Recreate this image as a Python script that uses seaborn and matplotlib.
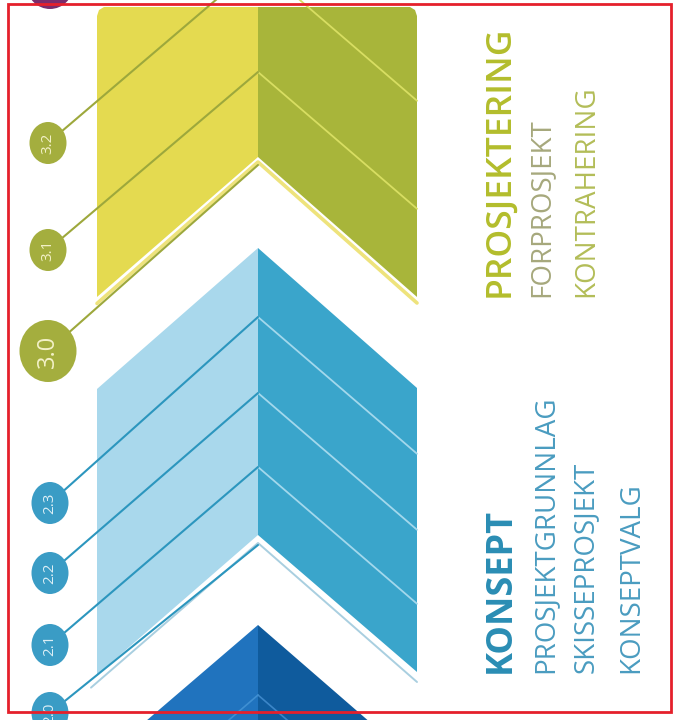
import matplotlib
matplotlib.use("Agg")
import matplotlib.pyplot as plt
import seaborn as sns
import pandas as pd
from matplotlib.patches import Polygon, Ellipse, Rectangle

# Innhold
stage_titles = ["PROSJEKTERING", "KONSEPT"]
stage_items = [["FORPROSJEKT", "KONTRAHERING"],
               ["PROSJEKTGRUNNLAG", "SKISSEPROSJEKT", "KONSEPTVALG"]]
step_labels = [["3.2", "3.1", "3.0"], ["2.3", "2.2", "2.1", "2.0"]]

# Farger
yellow_light, yellow_dark = "#E4DA50", "#A8B53A"
blue_light, blue_dark = "#A9D8EC", "#3AA5CB"
navy_light, navy_dark = "#2073BE", "#0F5B9D"

sns.set_theme(style="white")
plt.rcParams["font.family"] = ["Open Sans", "DejaVu Sans"]

fig = plt.figure(figsize=(6.73, 7.2), dpi=100)
ax = fig.add_axes([0, 0, 1, 1])
ax.set_xlim(0, 673)
ax.set_ylim(720, 0)
ax.axis("off")

# geometri (piksler)
xl, xc, xr = 97, 258, 417
k = 0.86


def half(pts, color, z=1):
    ax.add_patch(Polygon(pts, closed=True, facecolor=color, edgecolor="none", zorder=z))


def seg(x, y, color, lw, z=2):
    df = pd.DataFrame({"x": x, "y": y})
    sns.lineplot(data=df, x="x", y="y", sort=False, color=color, linewidth=lw,
                 ax=ax, zorder=z, legend=False)


# gul chevron (avrundet topp)
half([(xl, 16), (99, 10), (104, 7), (xc, 7), (xc, 157), (xl, 297)], yellow_light)
half([(xc, 7), (410, 7), (415, 10), (xr, 16), (xr, 297), (xc, 157)], yellow_dark)
# blå chevron
half([(xc, 248), (xl, 389), (xl, 675), (xc, 535)], blue_light)
half([(xc, 248), (xr, 388), (xr, 672), (xc, 535)], blue_dark)
# mørkeblå chevron
half([(xc, 625), (xl, 763), (xl, 800), (xc, 800)], navy_light)
half([(xc, 625), (xr, 763), (xr, 800), (xc, 800)], navy_dark)

# striper (toppunkt i midten) og sirkler
yellow_apex = [-36, 72, 165]
yellow_circ = [143, 250, 351]
blue_apex = [317, 393, 467, 545]
blue_circ = [503, 573, 645, 713]

# kantlinjer langs innhakket
seg([xl, xc, xr], [163 + k * (xc - xl) + 2, 162, 303], "#EEE37C", 2.6, z=2)
seg([xl - 6, xc, xr], [544 + k * (xc - xl + 6), 543, 682], "#A9CFE0", 1.4, z=2)

for a in yellow_apex[:2]:
    seg([xc, xr], [a, a + k * (xr - xc)], "#D8DE62", 1.3)
for a in blue_apex[:3]:
    seg([xc, xr], [a, a + k * (xr - xc)], "#A3D8EC", 1.3)
seg([xc, xr], [695, 695 + k * (xr - xc)], "#3C86C8", 1.2)
seg([xc, 150], [695, 695 + k * (xc - 150)], "#3F8FD2", 1.2)

for i, (a, cy) in enumerate(zip(yellow_apex, yellow_circ)):
    seg([48, xc], [cy, a], "#9DA83C", 1.5, z=3)
    big = step_labels[0][i] == "3.0"
    w, h = (57, 62) if big else (37, 42)
    ax.add_patch(Ellipse((48, cy), w, h, facecolor="#A4AE3E", edgecolor="none", zorder=4))
    ax.text(48, cy, step_labels[0][i], rotation=90, rotation_mode="anchor",
            ha="center", va="center", color="#F3F1C8",
            fontsize=17 if big else 11, zorder=5)

for i, (a, cy) in enumerate(zip(blue_apex, blue_circ)):
    seg([50, xc], [cy, a], "#2C96BE", 1.5, z=3)
    ax.add_patch(Ellipse((50, cy), 37, 42, facecolor="#3A9CC5", edgecolor="none", zorder=4))
    ax.text(50, cy, step_labels[1][i], rotation=90, rotation_mode="anchor",
            ha="center", va="center", color="#DDEFF6", fontsize=11, zorder=5)

# lilla sirkel øverst
ax.add_patch(Ellipse((50, -14), 46, 46, facecolor="#7A2C6C", edgecolor="none", zorder=4))

# tekster
ax.text(508, 297, stage_titles[0], rotation=90, rotation_mode="anchor",
        ha="left", va="baseline", fontsize=25.5, color="#B3BD2C", fontweight="semibold")
for x, t, c in zip([548, 593], stage_items[0], ["#A6A87C", "#B3BD58"]):
    ax.text(x, 297, t, rotation=90, rotation_mode="anchor",
            ha="left", va="baseline", fontsize=20, color=c)

ax.text(510, 673, stage_titles[1], rotation=90, rotation_mode="anchor",
        ha="left", va="baseline", fontsize=26, color="#2A8DB4", fontweight="bold")
for x, t in zip([552, 593, 638], stage_items[1]):
    ax.text(x, 673, t, rotation=90, rotation_mode="anchor",
            ha="left", va="baseline", fontsize=20, color="#4A9CC0")

# rød ramme
ax.add_patch(Rectangle((8, 4), 663, 708, facecolor="none", edgecolor="#E5202B",
                       linewidth=2, zorder=10))

fig.savefig("out.png", dpi=100, facecolor="white")
